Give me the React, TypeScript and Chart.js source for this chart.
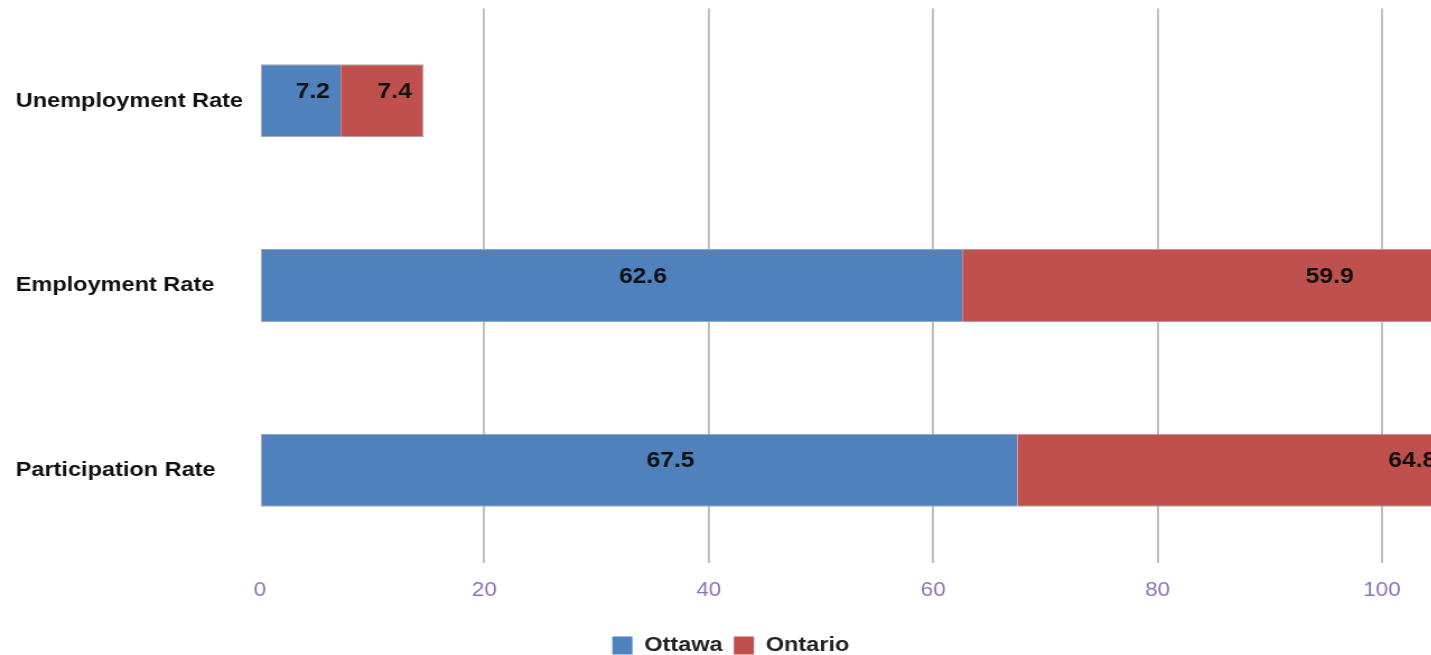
import { useEffect, useRef } from "react";
import { Chart, registerables } from "chart.js";

Chart.register(...registerables);

// Labour-force indicators, Ottawa vs Ontario (%)
const categories = ["Unemployment Rate", "Employment Rate", "Participation Rate"];
const ottawa = [7.2, 62.6, 67.5];
const ontario = [7.4, 59.9, 64.8];
const seriesNames = ["Ottawa", "Ontario"];
const tickValues = [0, 20, 40, 60, 80, 100];

const FONT = "'Liberation Sans', Arial, Helvetica, sans-serif";
const STRETCH = 1.12; // the drawing is widened horizontally
const CANVAS_W = 1291;
const CANVAS_H = 666;

// Bold value text inside each bar segment
const valueLabels = {
  id: "valueLabels",
  afterDatasetsDraw(chart: any) {
    const ctx = chart.ctx;
    ctx.save();
    ctx.font = `bold 22px ${FONT}`;
    ctx.fillStyle = "#111111";
    ctx.textAlign = "center";
    ctx.textBaseline = "middle";
    chart.data.datasets.forEach((ds: any, i: number) => {
      const meta = chart.getDatasetMeta(i);
      meta.data.forEach((bar: any, j: number) => {
        const { x, base, y } = bar.getProps(["x", "base", "y"], true);
        const w = x - base;
        const cx = (x + base) / 2 + Math.min(28, w * 0.15);
        ctx.fillText(String(ds.data[j]), cx, y - 9);
      });
    });
    ctx.restore();
  },
};

export default function App() {
  const canvasRef = useRef<HTMLCanvasElement | null>(null);

  useEffect(() => {
    if (!canvasRef.current) return;
    Chart.defaults.font.family = FONT;
    const chart = new Chart(canvasRef.current, {
      type: "bar",
      data: {
        labels: categories,
        datasets: [
          {
            label: seriesNames[0],
            data: ottawa,
            backgroundColor: "#4f81bd",
            borderColor: "#a3a3a3",
            borderWidth: { top: 1, bottom: 1, left: 1, right: 0 },
            borderSkipped: false,
            categoryPercentage: 1,
            barPercentage: 0.395,
          },
          {
            label: seriesNames[1],
            data: ontario,
            backgroundColor: "#c0504d",
            borderColor: "#a3a3a3",
            borderWidth: { top: 1, bottom: 1, left: 0, right: 1 },
            borderSkipped: false,
            categoryPercentage: 1,
            barPercentage: 0.395,
          },
        ],
      },
      options: {
        indexAxis: "y",
        responsive: false,
        maintainAspectRatio: false,
        animation: false,
        layout: { padding: { top: 8.5, left: 14, right: 0, bottom: 0 } },
        scales: {
          x: {
            stacked: true,
            min: 0,
            max: 105.7,
            afterBuildTicks: (s: any) => {
              s.ticks = tickValues.map((v) => ({ value: v }));
            },
            afterFit: (s: any) => {
              s.height = 62.5;
            },
            border: { display: false },
            grid: {
              drawTicks: false,
              lineWidth: 1.8,
              color: (c: any) => (c.tick && c.tick.value === 0 ? "rgba(0,0,0,0)" : "#b8b8bd"),
            },
            ticks: {
              padding: 16,
              color: "#8f72b6",
              font: { size: 20, family: FONT },
            },
          },
          y: {
            stacked: true,
            afterFit: (s: any) => {
              s.width = 218;
              s.paddingTop = 0;
              s.paddingBottom = 0;
            },
            grid: { display: false },
            border: { display: false },
            ticks: {
              crossAlign: "far",
              color: "#111111",
              font: { size: 21, weight: "bold", family: FONT },
            },
          },
        },
        plugins: {
          legend: {
            position: "bottom",
            labels: {
              boxWidth: 18,
              boxHeight: 18,
              padding: 10,
              color: "#222222",
              font: { size: 21, weight: "bold", family: FONT },
              generateLabels: (ch: any) =>
                Chart.defaults.plugins.legend.labels
                  .generateLabels(ch)
                  .map((it: any) => ({ ...it, lineWidth: 0, strokeStyle: "rgba(0,0,0,0)" })),
            },
          },
          tooltip: { enabled: false },
        },
      } as any,
      plugins: [valueLabels],
    });
    return () => chart.destroy();
  }, []);

  return (
    <div
      style={{
        position: "fixed",
        left: 0,
        top: 0,
        width: 1431,
        height: 655,
        overflow: "hidden",
        background: "#ffffff",
      }}
    >
      <canvas
        ref={canvasRef}
        width={CANVAS_W}
        height={CANVAS_H}
        style={{
          display: "block",
          transform: `scaleX(${STRETCH})`,
          transformOrigin: "0 0",
        }}
      />
    </div>
  );
}
